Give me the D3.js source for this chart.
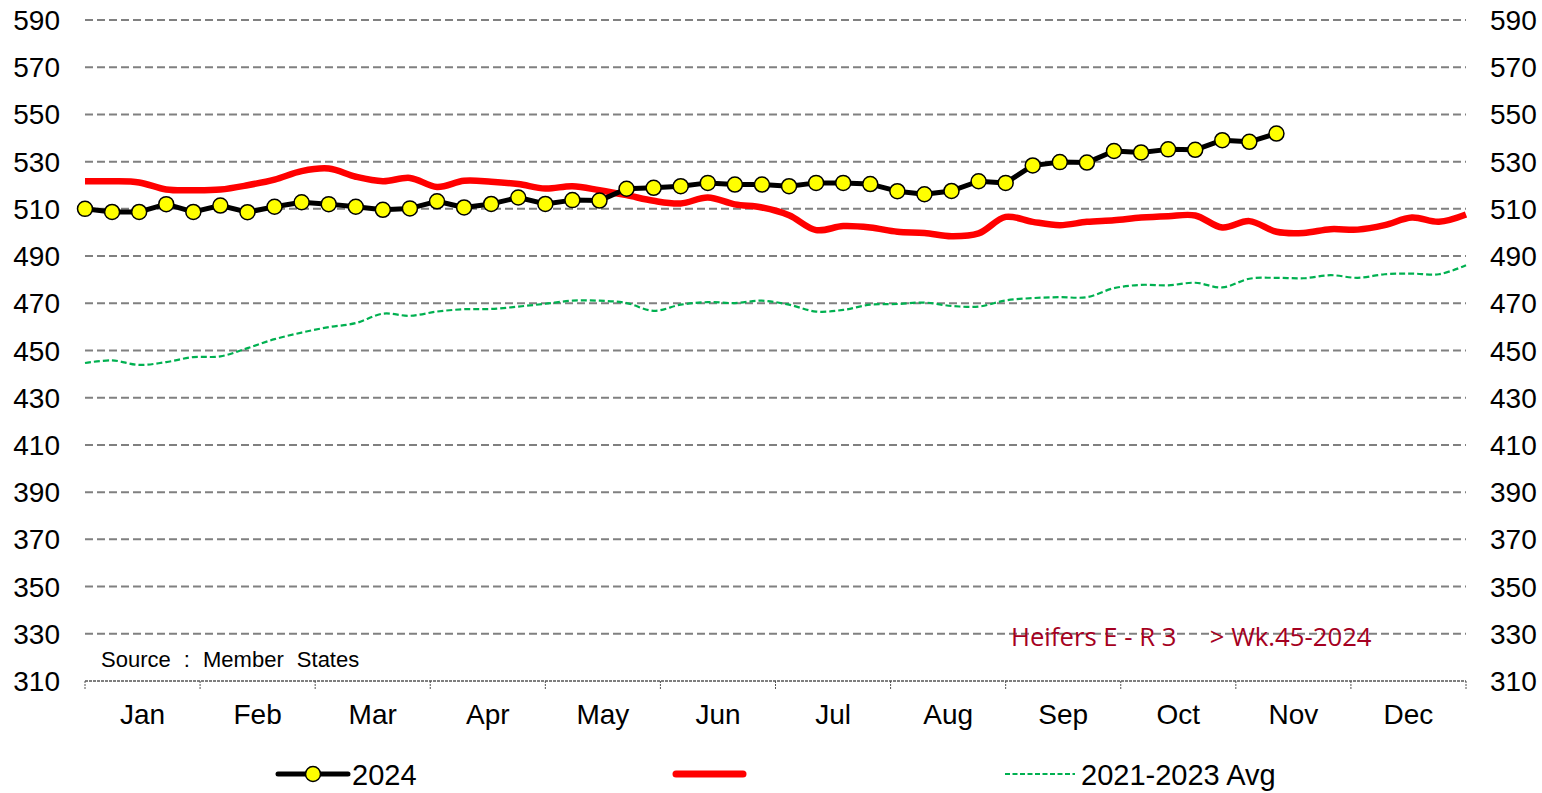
<!DOCTYPE html>
<html lang="en">
  <head>
    <meta charset="utf-8">
    <title>Heifers E - R 3</title>
    <script type="text/javascript" src="https://cdn.jsdelivr.net/npm/d3@7"></script>
    <style type="text/css">
      body { margin: 0; background: #fff; }
      text { font-family: "Liberation Sans", Arial, sans-serif; fill: #000; }
    </style>
  </head>
  <body>
    <script type="text/javascript">

      //Width and height
      var w = 1542;
      var h = 793;

      var months = ["Jan","Feb","Mar","Apr","May","Jun","Jul","Aug","Sep","Oct","Nov","Dec"];
      var yTicks = [310,330,350,370,390,410,430,450,470,490,510,530,550,570,590];

      // weekly prices, week 1..45
      var series2024 = [510,508.7,508.7,512,508.7,511.4,508.6,510.9,512.8,512,
                        510.9,509.6,510.2,513.2,510.6,512.1,514.8,512.1,513.7,513.5,
                        518.5,518.9,519.6,521,520.3,520.3,519.6,521,521,520.5,
                        517.5,516.2,517.6,521.7,521,528.4,529.8,529.6,534.5,533.9,
                        535.2,535,539.1,538.4,541.9];

      // previous year, week 1..52 (no legend label in the source)
      var seriesRed = [521.7,521.7,521.2,518.2,517.9,518.2,520,522.4,526,527.1,
                       523.6,521.7,523.1,519.3,521.9,521.5,520.5,518.6,519.6,517.9,
                       515.8,513.4,512.3,514.8,511.9,510.6,507.3,501,502.7,502.1,
                       500.3,499.8,498.4,499.6,506.6,504.5,503.1,504.5,505.2,506.3,
                       506.9,507.2,502.1,504.8,500.3,499.8,501.4,501.2,503.1,506.3,
                       504.5,507.6];

      // 2021-2023 average, week 1..52
      var seriesAvg = [444.7,445.8,443.9,445.1,447.2,447.5,451,454.8,457.6,459.9,
                       461.6,465.6,464.7,466.5,467.5,467.6,468.6,469.8,471.1,471.1,
                       470.1,466.8,469.4,470.5,470.1,471.1,469.4,466.5,467.2,469.4,
                       469.7,470.3,468.9,468.6,471.2,472.2,472.6,472.6,476.4,477.8,
                       477.6,478.7,476.7,480.4,480.8,480.6,481.9,480.8,482.3,482.6,
                       482.3,486.1];

      var plotL = 85, plotR = 1466, plotT = 20, plotB = 681;

      var xScale = d3.scaleLinear()
              .domain([1, 52])
              .range([plotL, plotR]);

      var monthScale = d3.scaleBand()
              .domain(months)
              .range([plotL, plotR]);

      var yScale = d3.scaleLinear()
              .domain([310, 590])
              .range([plotB, plotT]);

      //Create SVG element
      var svg = d3.select("body")
            .append("svg")
            .attr("width", w)
            .attr("height", h);

      //Gridlines
      svg.selectAll("line.grid")
         .data(yTicks.filter(function(d) { return d > 310; }))
         .enter()
         .append("line")
         .attr("class", "grid")
         .attr("x1", plotL)
         .attr("x2", plotR)
         .attr("y1", function(d) { return yScale(d); })
         .attr("y2", function(d) { return yScale(d); })
         .attr("stroke", "#808080")
         .attr("stroke-width", 2)
         .attr("stroke-dasharray", "8,4");

      //Bottom axis line (fine dotted) and month ticks
      svg.append("line")
         .attr("x1", plotL).attr("x2", plotR)
         .attr("y1", plotB).attr("y2", plotB)
         .attr("stroke", "#555")
         .attr("stroke-width", 1.3)
         .attr("stroke-dasharray", "3,1");

      svg.selectAll("line.mtick")
         .data(months.concat(["end"]))
         .enter()
         .append("line")
         .attr("class", "mtick")
         .attr("x1", function(d, i) { return plotL + i * monthScale.bandwidth(); })
         .attr("x2", function(d, i) { return plotL + i * monthScale.bandwidth(); })
         .attr("y1", plotB)
         .attr("y2", plotB + 8)
         .attr("stroke", "#555")
         .attr("stroke-width", 1)
         .attr("stroke-dasharray", "2,1");

      //Y labels both sides
      svg.selectAll("text.yl")
         .data(yTicks)
         .enter()
         .append("text")
         .attr("class", "yl")
         .attr("x", 60)
         .attr("y", function(d) { return yScale(d) + 10; })
         .attr("text-anchor", "end")
         .attr("font-size", 28)
         .text(function(d) { return d; });

      svg.selectAll("text.yr")
         .data(yTicks)
         .enter()
         .append("text")
         .attr("class", "yr")
         .attr("x", 1490)
         .attr("y", function(d) { return yScale(d) + 10; })
         .attr("font-size", 28)
         .text(function(d) { return d; });

      //Month labels
      svg.selectAll("text.month")
         .data(months)
         .enter()
         .append("text")
         .attr("class", "month")
         .attr("x", function(d) { return monthScale(d) + monthScale.bandwidth() / 2; })
         .attr("y", 724)
         .attr("text-anchor", "middle")
         .attr("font-size", 28)
         .text(function(d) { return d; });

      //Lines
      var smooth = d3.line()
            .x(function(d, i) { return xScale(i + 1); })
            .y(function(d) { return yScale(d); })
            .curve(d3.curveCatmullRom);

      var straight = d3.line()
            .x(function(d, i) { return xScale(i + 1); })
            .y(function(d) { return yScale(d); });

      svg.append("path")
         .datum(seriesAvg)
         .attr("d", smooth)
         .attr("fill", "none")
         .attr("stroke", "#00B050")
         .attr("stroke-width", 2.2)
         .attr("stroke-dasharray", "6,3");

      svg.append("path")
         .datum(seriesRed)
         .attr("d", smooth)
         .attr("fill", "none")
         .attr("stroke", "#FF0000")
         .attr("stroke-width", 6.5)
         .attr("stroke-linejoin", "round");

      svg.append("path")
         .datum(series2024)
         .attr("d", straight)
         .attr("fill", "none")
         .attr("stroke", "#000")
         .attr("stroke-width", 5)
         .attr("stroke-linejoin", "round");

      svg.selectAll("circle.pt")
         .data(series2024)
         .enter()
         .append("circle")
         .attr("class", "pt")
         .attr("cx", function(d, i) { return xScale(i + 1); })
         .attr("cy", function(d) { return yScale(d); })
         .attr("r", 7.5)
         .attr("fill", "#FFFF00")
         .attr("stroke", "#000")
         .attr("stroke-width", 1.5);

      //Source and annotation
      svg.append("text")
         .attr("x", 101)
         .attr("y", 667)
         .attr("font-size", 22)
         .attr("word-spacing", 7)
         .text("Source : Member States");

      svg.append("text")
         .attr("x", 1011)
         .attr("y", 646)
         .attr("font-size", 25.7)
         .attr("xml:space", "preserve")
         .style("font-family", "'Open Sans', sans-serif")
         .style("fill", "#A50021")
         .style("white-space", "pre")
         .text("Heifers E - R 3     > Wk.45-2024");

      //Legend
      var ly = 774;
      svg.append("line")
         .attr("x1", 278).attr("x2", 348)
         .attr("y1", ly).attr("y2", ly)
         .attr("stroke", "#000").attr("stroke-width", 5)
         .attr("stroke-linecap", "round");
      svg.append("circle")
         .attr("cx", 313).attr("cy", ly).attr("r", 7.5)
         .attr("fill", "#FFFF00").attr("stroke", "#000").attr("stroke-width", 1.5);
      svg.append("text")
         .attr("x", 352).attr("y", ly + 11)
         .attr("font-size", 29)
         .text("2024");

      svg.append("line")
         .attr("x1", 676).attr("x2", 743)
         .attr("y1", ly).attr("y2", ly)
         .attr("stroke", "#FF0000").attr("stroke-width", 7)
         .attr("stroke-linecap", "round");

      svg.append("line")
         .attr("x1", 1005).attr("x2", 1075)
         .attr("y1", ly).attr("y2", ly)
         .attr("stroke", "#00B050").attr("stroke-width", 2)
         .attr("stroke-dasharray", "5,2.5");
      svg.append("text")
         .attr("x", 1081).attr("y", ly + 11)
         .attr("font-size", 29)
         .text("2021-2023 Avg");

    </script>
  </body>
</html>
